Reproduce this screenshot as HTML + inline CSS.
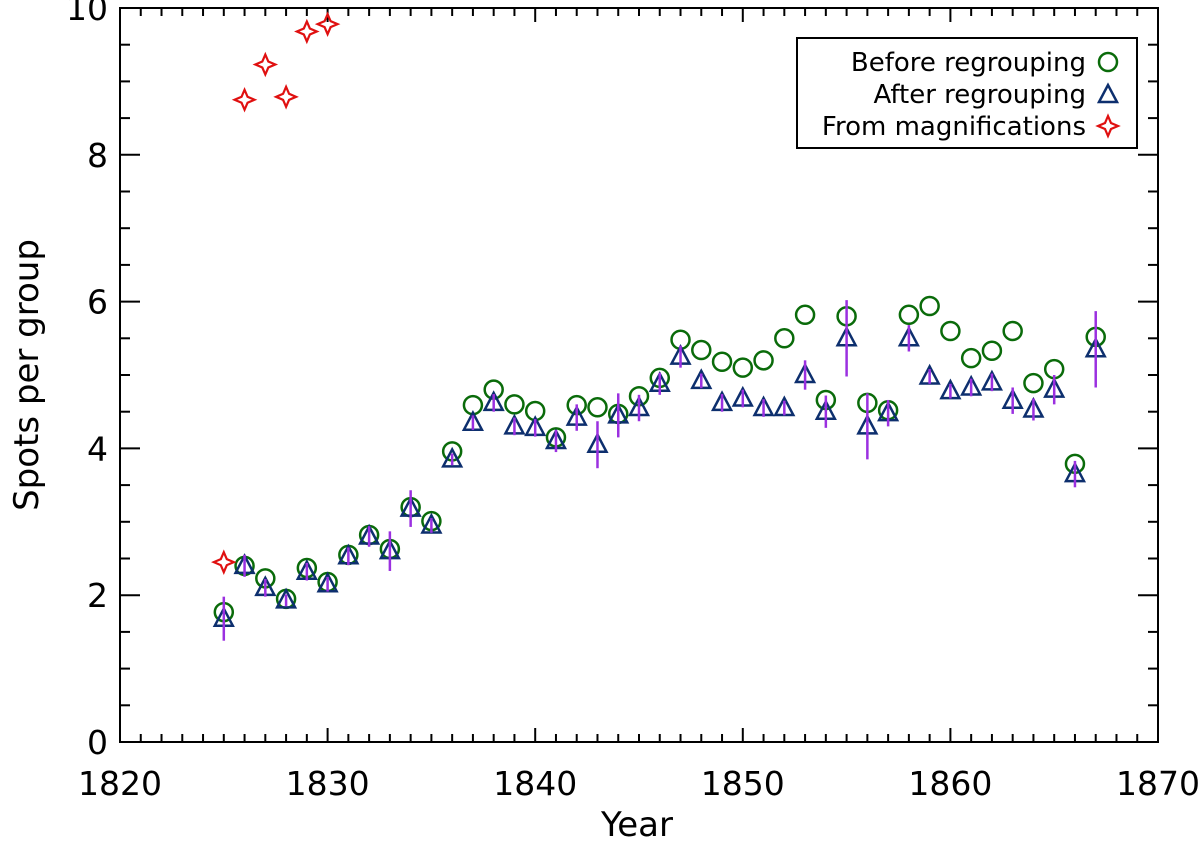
<!DOCTYPE html>
<html><head><meta charset="utf-8"><style>
body{margin:0;background:#fff;}
svg text{font-family:"DejaVu Sans","Liberation Sans",sans-serif;fill:#000;}
</style></head><body>
<svg id="chart" width="1200" height="842" xmlns="http://www.w3.org/2000/svg"></svg>
<script>
const years=[1825,1826,1827,1828,1829,1830,1831,1832,1833,1834,1835,1836,1837,1838,1839,1840,1841,1842,1843,1844,1845,1846,1847,1848,1849,1850,1851,1852,1853,1854,1855,1856,1857,1858,1859,1860,1861,1862,1863,1864,1865,1866,1867];
const beforeVals=[1.77,2.40,2.23,1.95,2.37,2.18,2.55,2.82,2.63,3.20,3.01,3.96,4.59,4.80,4.60,4.51,4.15,4.59,4.56,4.47,4.71,4.96,5.48,5.34,5.18,5.10,5.20,5.50,5.82,4.66,5.80,4.62,4.52,5.82,5.94,5.60,5.23,5.33,5.60,4.89,5.08,3.79,5.52];
const afterVals=[1.68,2.40,2.10,1.93,2.32,2.15,2.53,2.80,2.60,3.18,2.95,3.85,4.35,4.62,4.30,4.28,4.10,4.42,4.05,4.45,4.55,4.88,5.25,4.92,4.62,4.68,4.55,4.55,5.00,4.50,5.50,4.30,4.48,5.50,4.98,4.78,4.83,4.90,4.65,4.53,4.80,3.65,5.35];
const afterErr=[0.30,0.15,0.12,0.08,0.12,0.10,0.12,0.14,0.27,0.25,0.10,0.08,0.10,0.12,0.12,0.12,0.15,0.18,0.32,0.30,0.18,0.15,0.15,0.10,0.12,0.12,0.12,0.10,0.20,0.22,0.52,0.45,0.18,0.18,0.10,0.10,0.12,0.12,0.18,0.15,0.20,0.18,0.52];
const magYears=[1825,1826,1827,1828,1829,1830];
const magVals=[2.45,8.75,9.23,8.79,9.68,9.78];
const xTicks=[1820,1830,1840,1850,1860,1870];
const yTicks=[0,2,4,6,8,10];

const NS="http://www.w3.org/2000/svg";
const svg=document.getElementById('chart');
const X0=120,X1=1158,Y0=742,Y1=8;
const xs=v=>X0+(v-1820)/50*(X1-X0);
const ys=v=>Y0-v/10*(Y0-Y1);
function mk(tag,attrs,parent){const e=document.createElementNS(NS,tag);for(const k in attrs)e.setAttribute(k,attrs[k]);(parent||svg).appendChild(e);return e;}

const frame=mk('rect',{x:X0,y:Y1,width:X1-X0,height:Y0-Y1,fill:'none',stroke:'#000','stroke-width':2});



for(let v=1820;v<=1870;v+=1){
  const major=(v%10===0), L=major?14:8, x=xs(v);
  const t=mk('line',{x1:x,y1:Y0,x2:x,y2:Y0-L,stroke:'#000','stroke-width':2});
  
  
  const t2=mk('line',{x1:x,y1:Y1,x2:x,y2:Y1+L,stroke:'#000','stroke-width':2});
  
  
}
xTicks.forEach(v=>{
  const t=mk('text',{x:xs(v),y:795,'text-anchor':'middle','font-size':33});
  t.textContent=v;
  
  
});
for(let v=0;v<=10;v+=0.5){
  const major=(Math.abs(v%2)<1e-9), L=major?20:10, y=ys(v);
  const t=mk('line',{x1:X0,y1:y,x2:X0+L,y2:y,stroke:'#000','stroke-width':2});
  
  
  const t2=mk('line',{x1:X1,y1:y,x2:X1-L,y2:y,stroke:'#000','stroke-width':2});
  
  
}
yTicks.forEach(v=>{
  const t=mk('text',{x:108,y:ys(v)+12,'text-anchor':'end','font-size':33});
  t.textContent=v;
  
  
});
const xt=mk('text',{x:637,y:836,'text-anchor':'middle','font-size':34});
xt.textContent='Year';


const yt=mk('text',{x:0,y:0,'text-anchor':'middle','font-size':34,transform:'translate(38,375) rotate(-90)'});
yt.textContent='Spots per group';



function circle(x,y,g){return mk('circle',{cx:x,cy:y,r:9,fill:'none',stroke:'#0a6b0a','stroke-width':2.5},g);}
function tri(x,y,g){return mk('polygon',{points:`${x},${y-10} ${x-9},${y+7} ${x+9},${y+7}`,fill:'none',stroke:'#0d2f6e','stroke-width':2.5},g);}
function star(x,y,g){const r=10,i=3;return mk('polygon',{points:`${x},${y-r} ${x+i},${y-i} ${x+r},${y} ${x+i},${y+i} ${x},${y+r} ${x-i},${y+i} ${x-r},${y} ${x-i},${y-i}`,fill:'none',stroke:'#e01010','stroke-width':2.2},g);}

const gB=mk('g',{});


years.forEach((yr,i)=>{const c=circle(xs(yr),ys(beforeVals[i]),gB);
  
  });
const gA=mk('g',{});


years.forEach((yr,i)=>{const x=xs(yr),y=ys(afterVals[i]);
  const t=tri(x,y,gA);
  
  
  const e=mk('line',{x1:x,x2:x,y1:ys(afterVals[i]+afterErr[i]),y2:ys(afterVals[i]-afterErr[i]),stroke:'#9b30e0','stroke-width':2.5},gA);
  
  });
const gM=mk('g',{});


magYears.forEach((yr,i)=>{const s=star(xs(yr),ys(magVals[i]),gM);
  
  });

const lg=mk('g',{});


mk('rect',{x:797,y:38,width:340,height:110,fill:'#fff',stroke:'#000','stroke-width':2},lg);
const labels=['Before regrouping','After regrouping','From magnifications'];
labels.forEach((s,i)=>{const y=62+i*32;
  const t=mk('text',{x:1086,y:y+9,'text-anchor':'end','font-size':26},lg);
  t.textContent=s;
  
  
  if(i===0)circle(1108,y,lg);else if(i===1)tri(1108,y+1,lg);else star(1108,y,lg);});
</script>
</body></html>
